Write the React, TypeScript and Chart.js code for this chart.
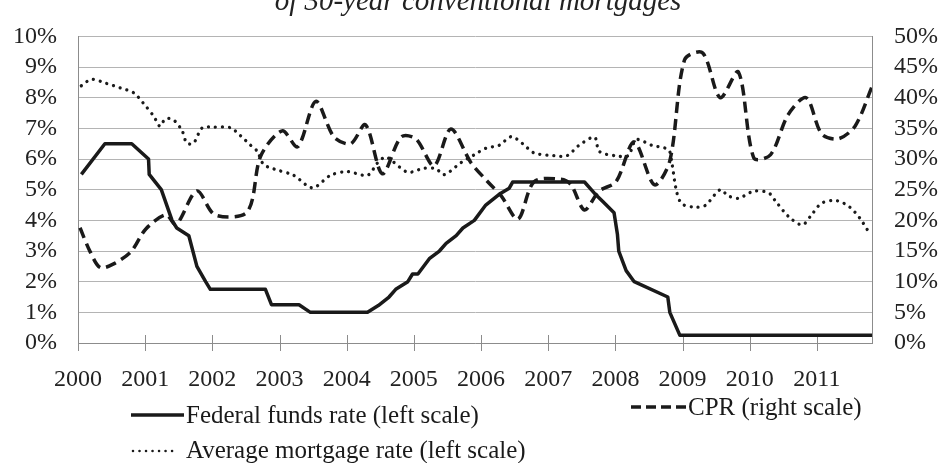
import { useEffect, useRef } from 'react';
import { Chart, registerables } from 'chart.js';

Chart.register(...registerables);

const FONT = '"Liberation Serif", "Times New Roman", serif';

const titleText = 'of 30-year conventional mortgages';
const yearTicks = [2000, 2001, 2002, 2003, 2004, 2005, 2006, 2007, 2008, 2009, 2010, 2011];
const xMin = 2000;
const xMax = 2011.82;

const fedLabel = 'Federal funds rate (left scale)';
const fedDates = [2000.05, 2000.40, 2000.80, 2001.05, 2001.06, 2001.24, 2001.40, 2001.47, 2001.65, 2001.77, 2001.90, 2001.97, 2002.79, 2002.88, 2003.29, 2003.46, 2004.31, 2004.47, 2004.63, 2004.73, 2004.91, 2004.98, 2005.06, 2005.23, 2005.38, 2005.48, 2005.63, 2005.73, 2005.90, 2006.07, 2006.27, 2006.42, 2006.47, 2007.54, 2007.69, 2007.82, 2007.98, 2008.03, 2008.05, 2008.16, 2008.28, 2008.78, 2008.81, 2008.96, 2011.82];
const fedRates = [5.5, 6.5, 6.5, 6.0, 5.5, 5.0, 4.0, 3.75, 3.5, 2.5, 2.0, 1.75, 1.75, 1.25, 1.25, 1.0, 1.0, 1.22, 1.5, 1.75, 2.0, 2.25, 2.25, 2.75, 3.0, 3.25, 3.5, 3.75, 4.0, 4.5, 4.85, 5.05, 5.25, 5.25, 4.88, 4.6, 4.25, 3.55, 3.0, 2.36, 2.0, 1.5, 1.0, 0.25, 0.25];

const cprLabel = 'CPR (right scale)';
const cprDates = [2000.03, 2000.18, 2000.33, 2000.53, 2000.79, 2001.01, 2001.31, 2001.46, 2001.77, 2002.04, 2002.52, 2002.72, 2003.04, 2003.27, 2003.54, 2003.81, 2004.06, 2004.28, 2004.53, 2004.81, 2005.03, 2005.30, 2005.55, 2005.85, 2006.10, 2006.30, 2006.55, 2006.79, 2007.19, 2007.34, 2007.54, 2007.76, 2008.01, 2008.28, 2008.58, 2008.81, 2009.03, 2009.30, 2009.56, 2009.83, 2010.06, 2010.31, 2010.57, 2010.84, 2011.07, 2011.32, 2011.57, 2011.82];
const cprValues = [18.8, 14.9, 12.3, 12.9, 14.9, 18.6, 20.9, 19.3, 24.8, 20.9, 21.4, 30.5, 34.6, 32.0, 39.4, 33.6, 32.5, 35.6, 27.6, 33.6, 33.3, 28.9, 34.9, 29.4, 26.3, 24.0, 20.2, 26.3, 26.7, 25.8, 21.7, 24.8, 26.3, 32.8, 25.8, 29.7, 46.2, 47.3, 40.0, 44.2, 30.2, 30.7, 37.2, 40.0, 34.1, 33.3, 35.4, 41.8];

const mortLabel = 'Average mortgage rate (left scale)';
const mortDates = [2000.05, 2000.20, 2000.42, 2000.63, 2000.83, 2000.98, 2001.13, 2001.22, 2001.30, 2001.42, 2001.55, 2001.62, 2001.72, 2001.85, 2002.02, 2002.27, 2002.42, 2002.57, 2002.67, 2002.76, 2002.91, 2003.21, 2003.49, 2003.76, 2004.01, 2004.31, 2004.46, 2004.58, 2004.68, 2004.91, 2005.15, 2005.33, 2005.45, 2005.70, 2005.90, 2006.07, 2006.27, 2006.45, 2006.62, 2006.79, 2007.09, 2007.28, 2007.46, 2007.69, 2007.76, 2007.99, 2008.19, 2008.31, 2008.54, 2008.79, 2008.84, 2008.91, 2008.99, 2009.19, 2009.34, 2009.56, 2009.68, 2009.83, 2010.06, 2010.28, 2010.38, 2010.58, 2010.78, 2010.90, 2011.07, 2011.30, 2011.49, 2011.64, 2011.76];
const mortRates = [8.39, 8.60, 8.47, 8.32, 8.16, 7.80, 7.39, 7.07, 7.31, 7.28, 6.92, 6.52, 6.52, 7.02, 7.04, 7.02, 6.76, 6.45, 6.25, 5.83, 5.68, 5.47, 5.06, 5.47, 5.59, 5.47, 5.88, 6.07, 5.93, 5.57, 5.70, 5.68, 5.49, 5.88, 6.14, 6.35, 6.45, 6.73, 6.50, 6.20, 6.11, 6.11, 6.45, 6.71, 6.25, 6.11, 6.11, 6.63, 6.45, 6.30, 5.88, 4.95, 4.54, 4.43, 4.49, 5.0, 4.80, 4.72, 4.95, 4.90, 4.64, 4.12, 3.85, 4.12, 4.56, 4.64, 4.43, 4.07, 3.66];

const pairs = (xs: number[], ys: number[]) => xs.map((x, i) => ({ x, y: ys[i] }));

const LINE = '#1a1a1a';
const AXIS = '#8c8c8c';
const GRID = '#b4b4b4';
const TEXT = '#222222';

const overlay = {
  id: 'overlay',
  beforeDatasetsDraw(chart: any) {
    const { ctx, chartArea, scales } = chart;
    const b = chartArea.bottom;
    ctx.save();
    ctx.strokeStyle = AXIS;
    ctx.lineWidth = 1;
    ctx.beginPath();
    yearTicks.forEach((yr) => {
      const px = Math.round(scales.x.getPixelForValue(yr)) + 0.5;
      ctx.moveTo(px, yr === xMin ? b : b - 8);
      ctx.lineTo(px, b + 8);
    });
    ctx.stroke();
    ctx.restore();
  },
  afterDraw(chart: any) {
    const { ctx } = chart;
    ctx.save();
    ctx.fillStyle = TEXT;
    ctx.font = `italic 29px ${FONT}`;
    ctx.textAlign = 'center';
    ctx.textBaseline = 'alphabetic';
    ctx.fillText(titleText, 478, 10);

    const ds = chart.data.datasets;
    const drawItem = (x0: number, x1: number, y: number, dash: number[], cap: CanvasLineCap, w: number, label: string, tx: number, ty: number) => {
      ctx.save();
      ctx.strokeStyle = LINE;
      ctx.lineWidth = w;
      ctx.lineCap = cap;
      ctx.setLineDash(dash);
      ctx.beginPath();
      ctx.moveTo(x0, y);
      ctx.lineTo(x1, y);
      ctx.stroke();
      ctx.restore();
      ctx.fillStyle = LINE;
      ctx.font = `25px ${FONT}`;
      ctx.textAlign = 'left';
      ctx.textBaseline = 'middle';
      ctx.fillText(label, tx, ty);
    };
    drawItem(131, 184, 415, [], 'butt', 3.5, ds[0].label, 186, 416);
    drawItem(631, 687, 407, [10, 5], 'butt', 3.5, ds[1].label, 688, 408);
    drawItem(133, 176, 451, [0.01, 6.5], 'round', 2.6, ds[2].label, 186, 451);
    ctx.restore();
  },
};

export default function App() {
  const ref = useRef<HTMLCanvasElement | null>(null);
  useEffect(() => {
    if (!ref.current) return;
    const tickFont = { family: FONT, size: 24 };
    const chart = new Chart(ref.current, {
      type: 'line',
      data: {
        datasets: [
          {
            label: fedLabel,
            data: pairs(fedDates, fedRates),
            yAxisID: 'y',
            borderColor: LINE,
            borderWidth: 3.5,
            pointRadius: 0,
            tension: 0,
            borderJoinStyle: 'round',
          },
          {
            label: cprLabel,
            data: pairs(cprDates, cprValues),
            yAxisID: 'y2',
            borderColor: LINE,
            borderWidth: 3.5,
            borderDash: [11, 6],
            pointRadius: 0,
            tension: 0.3,
          },
          {
            label: mortLabel,
            data: pairs(mortDates, mortRates),
            yAxisID: 'y',
            borderColor: LINE,
            borderWidth: 3.3,
            borderDash: [0.01, 7],
            borderCapStyle: 'round',
            pointRadius: 0,
            tension: 0.3,
          },
        ],
      } as any,
      options: {
        animation: false,
        responsive: false,
        layout: { padding: { top: 21, left: 0, right: 0, bottom: 0 } },
        plugins: { legend: { display: false }, tooltip: { enabled: false }, title: { display: false } },
        scales: {
          x: {
            type: 'linear',
            min: xMin,
            max: xMax,
            afterBuildTicks: (s: any) => {
              s.ticks = yearTicks.map((v) => ({ value: v }));
            },
            ticks: {
              callback: (v: any) => String(v),
              font: tickFont,
              color: TEXT,
              padding: 14,
              autoSkip: false,
              maxRotation: 0,
            },
            grid: { display: false },
            border: { display: true, color: AXIS, width: 1 },
            afterFit: (s: any) => {
              s.height = 120;
            },
          },
          y: {
            position: 'left',
            min: 0,
            max: 10,
            ticks: { stepSize: 1, autoSkip: false, callback: (v: any) => v + '%', font: tickFont, color: TEXT, padding: 21 },
            grid: { color: GRID, drawTicks: false, lineWidth: 1 },
            border: { display: true, color: AXIS, width: 1 },
            afterFit: (s: any) => {
              s.width = 78;
            },
          },
          y2: {
            position: 'right',
            min: 0,
            max: 50,
            ticks: { stepSize: 5, autoSkip: false, callback: (v: any) => v + '%', font: tickFont, color: TEXT, padding: 22 },
            grid: { drawOnChartArea: false, drawTicks: false },
            border: { display: true, color: AXIS, width: 1 },
            afterFit: (s: any) => {
              s.width = 73;
            },
          },
        },
      } as any,
      plugins: [overlay],
    });
    return () => chart.destroy();
  }, []);
  return (
    <div style={{ position: 'absolute', left: 0, top: 0, width: 945, height: 463, background: '#fff' }}>
      <canvas ref={ref} width={945} height={463} style={{ display: 'block' }} />
    </div>
  );
}
